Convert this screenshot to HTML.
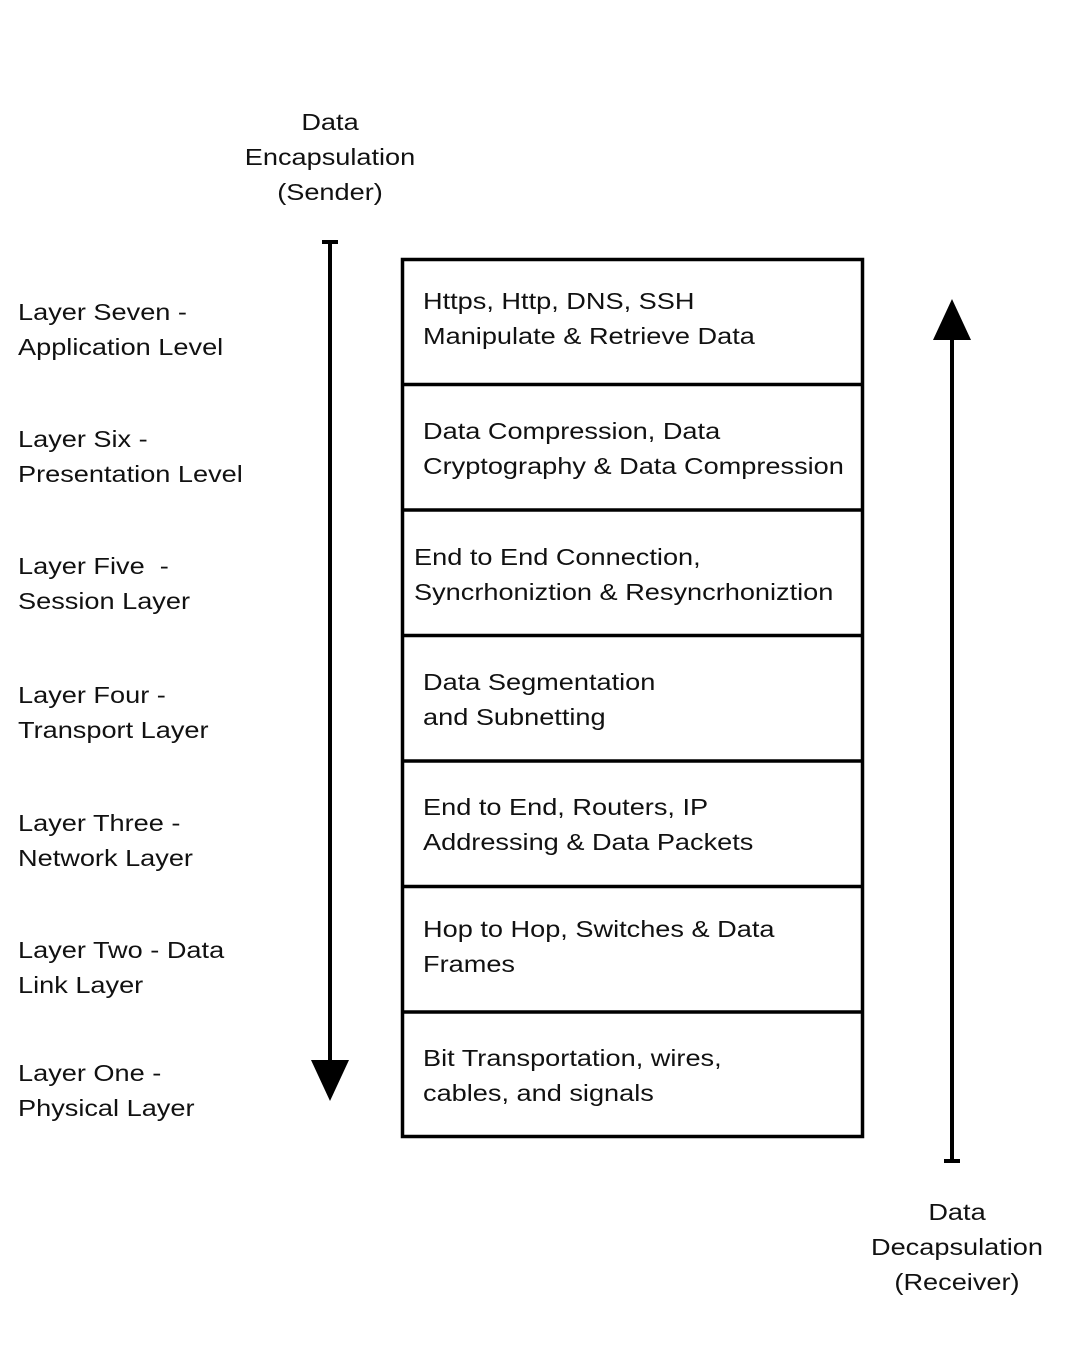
<!DOCTYPE html>
<html><head><style>
body{margin:0;width:1080px;height:1350px;background:#fff;position:relative;font-family:"Liberation Sans",sans-serif;color:#111;overflow:hidden}
.t{position:absolute;font-size:23px;line-height:35px;white-space:nowrap;transform:scaleX(1.18);transform-origin:0 0}
.c{text-align:center;transform-origin:50% 0}
</style></head><body>
<svg width="1080" height="1350" style="position:absolute;left:0;top:0">
<rect x="402.5" y="259.5" width="460" height="877" fill="none" stroke="#000" stroke-width="3.5"/>
<g stroke="#000" stroke-width="3.5">
<line x1="401" y1="384.5" x2="864" y2="384.5"/>
<line x1="401" y1="510" x2="864" y2="510"/>
<line x1="401" y1="635.5" x2="864" y2="635.5"/>
<line x1="401" y1="761" x2="864" y2="761"/>
<line x1="401" y1="886.5" x2="864" y2="886.5"/>
<line x1="401" y1="1012" x2="864" y2="1012"/>
</g>
<g stroke="#000" stroke-width="4">
<line x1="330" y1="242" x2="330" y2="1065"/>
<line x1="322" y1="242" x2="338" y2="242"/>
<line x1="952" y1="335" x2="952" y2="1161"/>
<line x1="944" y1="1161" x2="960" y2="1161"/>
</g>
<polygon points="311,1060 349,1060 330,1101" fill="#000"/>
<polygon points="933,340 971,340 952,299" fill="#000"/>
</svg>
<div class="t c" style="left:230px;width:200px;top:105px">Data<br>Encapsulation<br>(Sender)</div>
<div class="t c" style="left:857px;width:200px;top:1195px">Data<br>Decapsulation<br>(Receiver)</div>
<div class="t" style="left:18px;top:295px">Layer Seven -<br>Application Level</div>
<div class="t" style="left:18px;top:422px">Layer Six -<br>Presentation Level</div>
<div class="t" style="left:18px;top:549px">Layer Five &nbsp;-<br>Session Layer</div>
<div class="t" style="left:18px;top:678px">Layer Four -<br>Transport Layer</div>
<div class="t" style="left:18px;top:806px">Layer Three -<br>Network Layer</div>
<div class="t" style="left:18px;top:933px">Layer Two - Data<br>Link Layer</div>
<div class="t" style="left:18px;top:1056px">Layer One -<br>Physical Layer</div>
<div class="t" style="left:423px;top:284px">Https, Http, DNS, SSH<br>Manipulate &amp; Retrieve Data</div>
<div class="t" style="left:423px;top:414px">Data Compression, Data<br>Cryptography &amp; Data Compression</div>
<div class="t" style="left:414px;top:540px">End to End Connection,<br>Syncrhoniztion &amp; Resyncrhoniztion</div>
<div class="t" style="left:423px;top:665px">Data Segmentation<br>and Subnetting</div>
<div class="t" style="left:423px;top:790px">End to End, Routers, IP<br>Addressing &amp; Data Packets</div>
<div class="t" style="left:423px;top:912px">Hop to Hop, Switches &amp; Data<br>Frames</div>
<div class="t" style="left:423px;top:1041px">Bit Transportation, wires,<br>cables, and signals</div>
</body></html>
